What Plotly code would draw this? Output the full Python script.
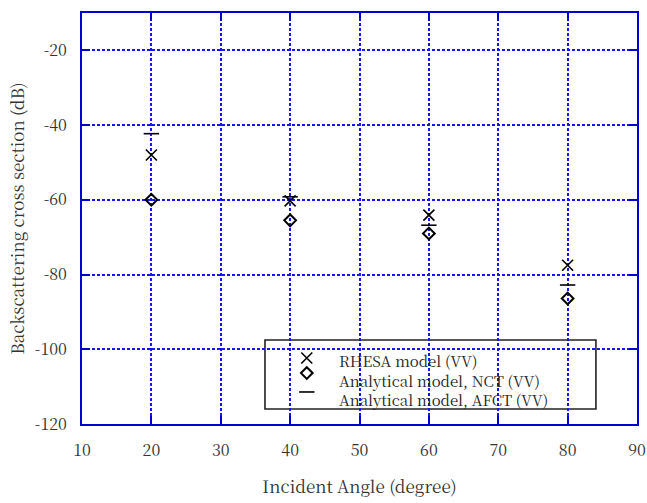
import plotly.graph_objects as go

angles = [20, 40, 60, 80]
rhesa_vv = [-48.0, -60.3, -64.1, -77.5]
nct_vv = [-60.0, -65.5, -69.0, -86.4]
afct_vv = [-42.3, -59.2, -66.8, -82.8]

legend_labels = ["RHESA model (VV)", "Analytical model, NCT (VV)", "Analytical model, AFCT (VV)"]
x_ticks = [10, 20, 30, 40, 50, 60, 70, 80, 90]
y_ticks = [-120, -100, -80, -60, -40, -20]

BLUE = "#0000d0"
GRID = "rgb(20,20,255)"
MING = "Noto Serif CJK TC"

fig = go.Figure()
fig.add_trace(go.Scatter(x=angles, y=rhesa_vv, mode="markers", name=legend_labels[0],
                         marker=dict(symbol="x-thin-open", size=11, color="black",
                                     line=dict(color="black", width=1.6))))
fig.add_trace(go.Scatter(x=angles, y=nct_vv, mode="markers", name=legend_labels[1],
                         marker=dict(symbol="diamond-open", size=9, color="black",
                                     line=dict(color="black", width=2))))
fig.add_trace(go.Scatter(x=angles, y=afct_vv, mode="markers", name=legend_labels[2],
                         marker=dict(symbol="line-ew-open", size=11, color="black",
                                     line=dict(color="black", width=1.6))))

# legend markers on an overlay axis (paper-like 0..1)
leg_x = [0.405, 0.405, 0.405]
leg_y = [0.1606, 0.124, 0.0779]
symbols = ["x-thin-open", "diamond-open", "line-ew-open"]
sizes = [11, 9, 11]
widths = [1.6, 2, 1.6]
for i in range(3):
    fig.add_trace(go.Scatter(x=[leg_x[i]], y=[leg_y[i]], mode="markers", xaxis="x2", yaxis="y2",
                             showlegend=False, hoverinfo="skip",
                             marker=dict(symbol=symbols[i], size=sizes[i], color="black",
                                         line=dict(color="black", width=widths[i]))))

fig.add_annotation(x=0.4595, y=0.108, xref="paper", yref="paper", text="<br>".join(legend_labels),
                   showarrow=False, xanchor="left", yanchor="middle", align="left",
                   font=dict(family=MING, size=15, color="#222"))

fig.add_shape(type="rect", xref="paper", yref="paper", x0=0.3297, x1=0.926, y0=0.0365, y1=0.2044,
              line=dict(color="#222", width=1.6), fillcolor="white", layer="between")

axis_common = dict(showgrid=True, gridcolor=GRID, griddash="3px,2px", gridwidth=1.5,
                   showline=True, linecolor=BLUE, linewidth=2, mirror="ticks",
                   ticks="inside", ticklen=8, tickcolor=BLUE, tickwidth=1.5,
                   zeroline=False, automargin=False,
                   tickfont=dict(family=MING, size=16, color="#333"))

fig.update_layout(
    width=647, height=503,
    margin=dict(l=82, r=10, t=13, b=79),
    plot_bgcolor="white", paper_bgcolor="white",
    showlegend=False,
    xaxis=dict(range=[10, 90], tickvals=x_ticks, ticktext=[str(v) for v in x_ticks],
               ticklabelstandoff=11,
               title=dict(text="Incident Angle (degree)", font=dict(family=MING, size=17, color="#333"),
                          standoff=21), **axis_common),
    yaxis=dict(range=[-120, -10], tickvals=y_ticks, ticktext=[str(v) for v in y_ticks],
               ticklabelstandoff=10,
               title=dict(text="Backscattering cross section (dB)", font=dict(family=MING, size=17, color="#333"),
                          standoff=6), **axis_common),
    xaxis2=dict(range=[0, 1], overlaying="x", visible=False, fixedrange=True, showgrid=False),
    yaxis2=dict(range=[0, 1], overlaying="y", visible=False, fixedrange=True, showgrid=False),
)

fig.write_html("out.html")
